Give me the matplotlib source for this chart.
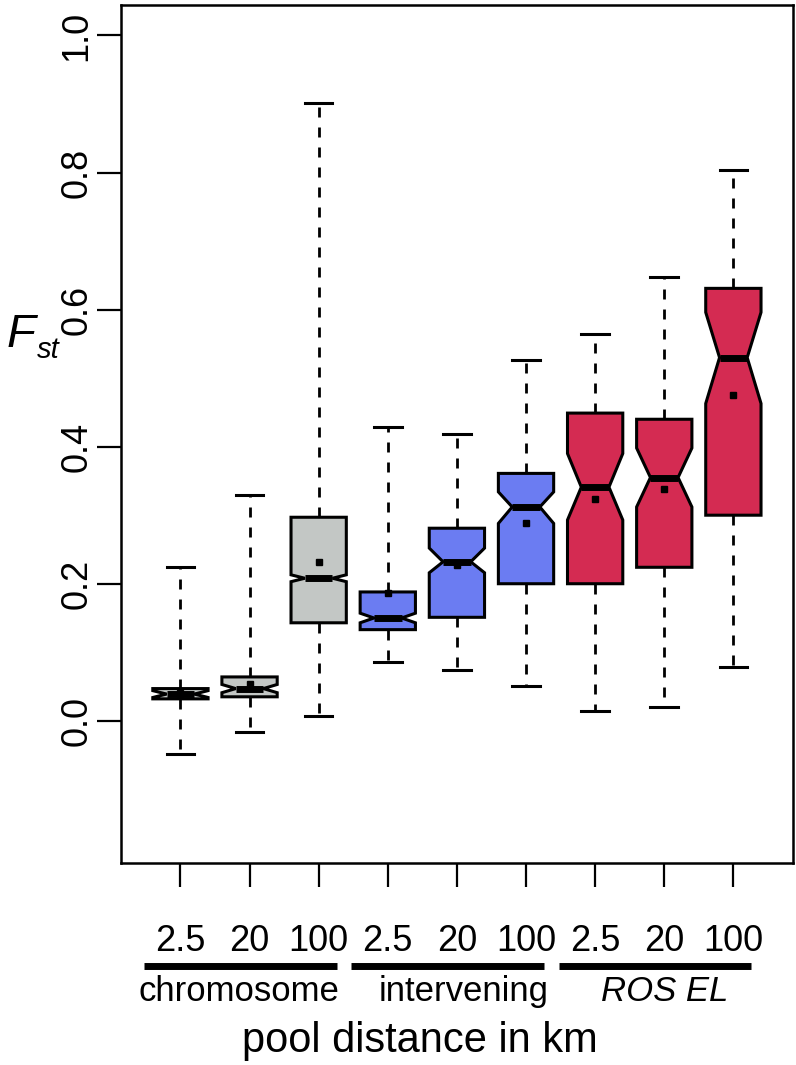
import matplotlib.pyplot as plt

plt.rcParams['font.family'] = ['Liberation Sans', 'DejaVu Sans']

# 거리별 F_st 요약값
distances = ['2.5', '20', '100', '2.5', '20', '100', '2.5', '20', '100']
groups = ['chromosome', 'intervening', 'ROS EL']
whislo = [-0.048, -0.016, 0.007, 0.086, 0.074, 0.051, 0.015, 0.020, 0.079]
q1 = [0.032, 0.035, 0.143, 0.133, 0.151, 0.200, 0.200, 0.224, 0.300]
cilo = [0.034, 0.041, 0.203, 0.143, 0.216, 0.288, 0.293, 0.312, 0.463]
med = [0.039, 0.047, 0.208, 0.150, 0.232, 0.312, 0.341, 0.355, 0.530]
cihi = [0.044, 0.053, 0.213, 0.157, 0.252, 0.334, 0.390, 0.398, 0.596]
q3 = [0.047, 0.064, 0.297, 0.188, 0.281, 0.361, 0.449, 0.440, 0.631]
whishi = [0.224, 0.329, 0.902, 0.428, 0.419, 0.527, 0.564, 0.647, 0.803]
means = [0.040, 0.054, 0.232, 0.186, 0.227, 0.288, 0.323, 0.338, 0.475]
colors = ['#c3c7c5'] * 3 + ['#6b7cf2'] * 3 + ['#d42b52'] * 3

stats = []
for i in range(len(distances)):
    stats.append({'whislo': whislo[i], 'q1': q1[i], 'cilo': cilo[i], 'med': med[i],
                  'cihi': cihi[i], 'q3': q3[i], 'whishi': whishi[i], 'mean': means[i],
                  'fliers': []})

fig = plt.figure(figsize=(7.96, 10.65), dpi=100)
ax = fig.add_axes([0.152, 0.19, 0.844, 0.805])

pos = list(range(1, len(distances) + 1))
bp = ax.bxp(stats, positions=pos, widths=0.8, capwidths=0.4, shownotches=True,
            showmeans=True, patch_artist=True,
            boxprops=dict(linewidth=2.2, edgecolor='black', joinstyle='miter'),
            medianprops=dict(color='black', linewidth=5, solid_capstyle='butt'),
            whiskerprops=dict(color='black', linewidth=2.0, linestyle=(0, (3.6, 3.6))),
            capprops=dict(color='black', linewidth=2.2),
            meanprops=dict(marker='s', markerfacecolor='black', markeredgecolor='black',
                           markersize=4.5))
for patch, c in zip(bp['boxes'], colors):
    patch.set_facecolor(c)

ax.set_xlim(0.14, 9.86)
ax.set_ylim(-0.207, 1.044)
ax.set_yticks([0.0, 0.2, 0.4, 0.6, 0.8, 1.0])
ax.set_yticklabels(['0.0', '0.2', '0.4', '0.6', '0.8', '1.0'], rotation=90, va='center')
ax.set_xticks(pos)
ax.set_xticklabels(distances)
ax.tick_params(axis='both', length=17, width=1.6, labelsize=26)
ax.tick_params(axis='y', pad=2)
ax.tick_params(axis='x', pad=27)
for s in ax.spines.values():
    s.set_linewidth(1.8)

# 그룹 밑줄 + 그룹명
tr = ax.get_xaxis_transform()
label_shift = [-0.15, 0.1, 0.0]
for g in range(len(groups)):
    first = pos[g * 3]
    last = pos[g * 3 + 2]
    ax.plot([first - 0.53, last + 0.26], [-0.121, -0.121], color='black', linewidth=5,
            transform=tr, clip_on=False, solid_capstyle='butt')
    ax.text((first + last) / 2 + label_shift[g], -0.150, groups[g], transform=tr,
            ha='center', va='center', fontsize=25, style='italic' if g == 2 else 'normal')

fig.text(0.528, 0.023, 'pool distance in km', ha='center', va='center', fontsize=30)

# F_st 라벨
fig.text(0.008, 1 - 347 / 1065, 'F', fontsize=34, style='italic', va='baseline')
fig.text(0.047, 1 - 358 / 1065, 'st', fontsize=21, style='italic', va='baseline')

fig.savefig('out.png', dpi=100)
